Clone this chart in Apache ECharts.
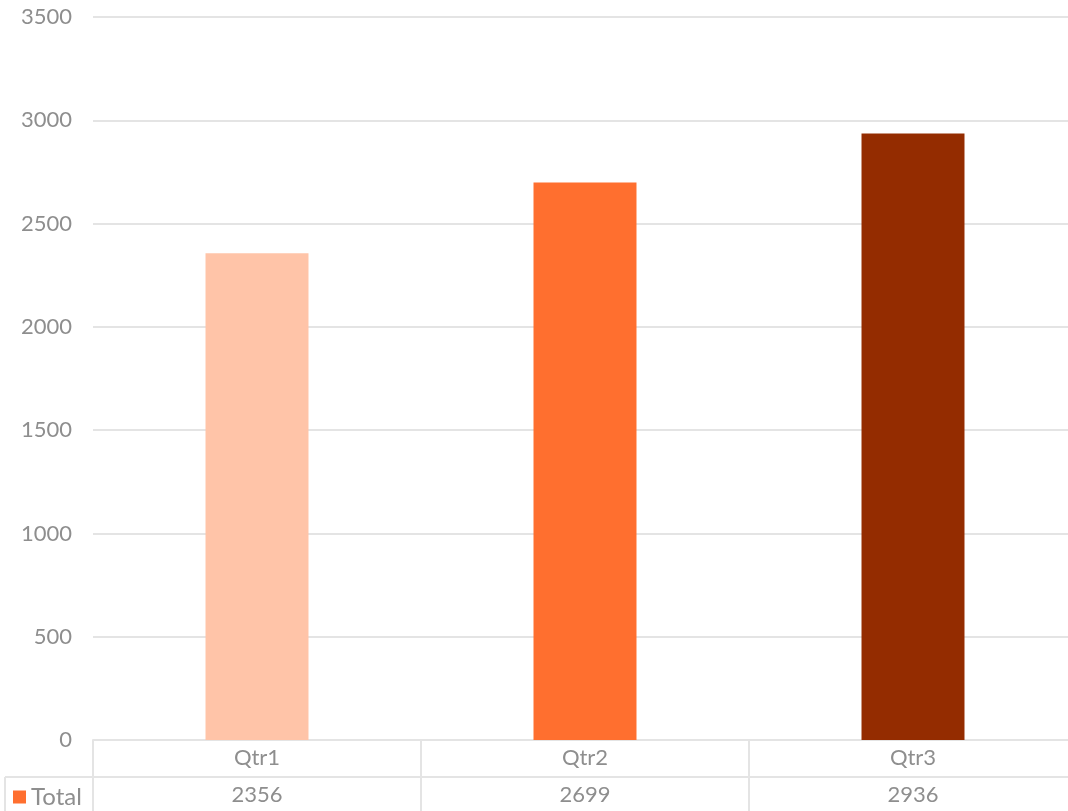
<!DOCTYPE html>
<html>
<head>
<meta charset="utf-8">
<script src="https://cdn.jsdelivr.net/npm/echarts@6/dist/echarts.min.js"></script>
<style>
  html, body { margin: 0; padding: 0; background: #fff; overflow: hidden; }
  /* the plot runs a few pixels past the visible right edge */
  #wrap { width: 1068px; height: 811px; overflow: hidden; }
  #chart { width: 1077px; height: 811px; }
</style>
</head>
<body>
<div id="wrap"><div id="chart"></div></div>
<script>
// Quarterly totals
const categories = ['Qtr1', 'Qtr2', 'Qtr3'];
const totals = [2356, 2699, 2936];
const barColors = ['#FFC4A8', '#FF6F2F', '#942C00'];
const seriesName = 'Total';

const FONT = "'Century Gothic', Lato, 'Open Sans', sans-serif";
const FS = 22;
const TEXT = '#8e8e8e';
const LINE = '#e4e4e4';

const chart = echarts.init(document.getElementById('chart'));

chart.setOption({
  animation: false,
  backgroundColor: '#fff',
  textStyle: { fontFamily: FONT },
  grid: { left: 93, right: 0, top: 17, bottom: 71, containLabel: false },
  legend: {
    data: [seriesName],
    left: 8, top: 780,
    itemWidth: 13, itemHeight: 13, itemGap: 6,
    icon: 'rect',
    textStyle: { fontFamily: FONT, fontSize: FS + 2, color: TEXT },
    selectedMode: false
  },
  xAxis: [
    {
      type: 'category',
      data: categories,
      position: 'bottom',
      axisLine: { show: true, lineStyle: { color: LINE, width: 2 } },
      axisTick: { show: true, length: 71, alignWithLabel: false, lineStyle: { color: LINE, width: 2 } },
      axisLabel: { margin: 7, fontSize: FS, color: TEXT, fontFamily: FONT },
      splitLine: { show: false }
    },
    {
      // data-table row with the values
      type: 'category',
      data: totals.map(String),
      position: 'bottom',
      offset: 37,
      axisLine: { show: false },
      axisTick: { show: false },
      axisLabel: { margin: 7, fontSize: FS, color: TEXT, fontFamily: FONT },
      splitLine: { show: false }
    }
  ],
  yAxis: {
    type: 'value',
    min: 0, max: 3500, interval: 500,
    axisLine: { show: false },
    axisTick: { show: false },
    axisLabel: { margin: 21, fontSize: FS, color: TEXT, fontFamily: FONT, formatter: v => String(v) },
    splitLine: { lineStyle: { color: LINE, width: 2 } }
  },
  series: [{
    name: seriesName,
    type: 'bar',
    xAxisIndex: 0,
    barWidth: '31.4%',
    itemStyle: { color: '#FF6F2F' },
    data: totals.map((v, i) => ({ value: v, itemStyle: { color: barColors[i] } }))
  }]
});

// Data-table frame: row divider and legend cell outline
const rowTop = chart.convertToPixel({ gridIndex: 0 }, [0, 0])[1] + 37;
chart.setOption({
  graphic: [
    { type: 'line', shape: { x1: 5, y1: rowTop, x2: 1077, y2: rowTop }, style: { stroke: LINE, lineWidth: 2 } },
    { type: 'line', shape: { x1: 5, y1: rowTop, x2: 5, y2: 811 }, style: { stroke: LINE, lineWidth: 2 } }
  ]
});
</script>
</body>
</html>
